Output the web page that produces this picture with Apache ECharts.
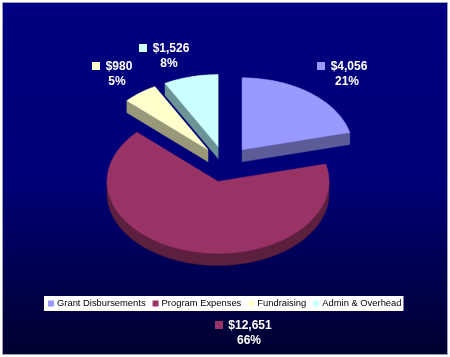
<!DOCTYPE html>
<html>
<head>
<meta charset="utf-8">
<style>
html, body { margin: 0; padding: 0; background: #fff; }
#chart { width: 450px; height: 357px; }
</style>
<script src="https://cdn.jsdelivr.net/npm/echarts@6/dist/echarts.min.js"></script>
</head>
<body>
<div id="chart"></div>
<script>
var categories = ['Grant Disbursements', 'Program Expenses', 'Fundraising', 'Admin & Overhead'];
var amounts = [4056, 12651, 980, 1526];

var colors = ['#9999ff', '#993366', '#ffffcc', '#ccffff'];
var sideColors = ['#5c5c99', '#5c1f3d', '#99997a', '#6d9494'];

// pie geometry, the tilted ellipse is what the stock pie series can't do
var cx = 225, cy = 164, rx = 111, ry = 72, depth = 12, explode = 0.25;
var labelFont = 'Liberation Sans, Arial, sans-serif';
// marker x, marker y, amount centre x, percent centre x
var labelPos = [
    [317, 62, 349, 347],
    [215, 321, 250, 249],
    [92, 62, 119, 117],
    [139, 44, 171, 169]
];

var total = amounts.reduce(function (a, b) { return a + b; }, 0);

function rimPoint(c, deg, dy) {
    var r = deg * Math.PI / 180;
    return [c[0] + rx * Math.sin(r), c[1] - ry * Math.cos(r) + (dy || 0)];
}

function arcPoints(c, from, to, dy) {
    var pts = [];
    for (var a = from; a < to; a += 1) {
        pts.push(rimPoint(c, a, dy));
    }
    pts.push(rimPoint(c, to, dy));
    return pts;
}

function poly(points, fill) {
    return {
        type: 'polygon',
        shape: { points: points },
        style: { fill: fill, stroke: fill, lineWidth: 0.5 }
    };
}

function cutFace(c, deg, fill) {
    var p = rimPoint(c, deg);
    return poly([c, p, [p[0], p[1] + depth], [c[0], c[1] + depth]], fill);
}

function makeRenderItem(idx) {
    var before = amounts.slice(0, idx).reduce(function (a, b) { return a + b; }, 0);
    return function (params, api) {
        var start = before / total * 360;
        var end = start + api.value(0) / total * 360;
        var mid = (start + end) / 2 * Math.PI / 180;
        var c = [cx + explode * rx * Math.sin(mid), cy - explode * ry * Math.cos(mid)];
        var side = sideColors[idx];
        var children = [];

        // wall facing the viewer
        var from = Math.max(start, 90), to = Math.min(end, 270);
        if (from < to) {
            children.push(poly(arcPoints(c, from, to).concat(arcPoints(c, from, to, depth).reverse()), side));
        }
        // cut faces that can be seen from the front
        if (end < 180) children.push(cutFace(c, end, side));
        if (start > 180) children.push(cutFace(c, start, side));
        // top face
        children.push(poly([c].concat(arcPoints(c, start, end)), colors[idx]));

        var pos = labelPos[idx];
        children.push({
            type: 'rect',
            shape: { x: pos[0], y: pos[1], width: 8, height: 8 },
            style: { fill: colors[idx] }
        });
        children.push({
            type: 'text',
            style: {
                x: pos[2], y: pos[1] + 5,
                text: '$' + api.value(0).toLocaleString('en-US'),
                fill: '#fff', font: 'bold 12px ' + labelFont,
                align: 'center', verticalAlign: 'middle'
            }
        });
        children.push({
            type: 'text',
            style: {
                x: pos[3], y: pos[1] + 20,
                text: Math.round(api.value(0) / total * 100) + '%',
                fill: '#fff', font: 'bold 12px ' + labelFont,
                align: 'center', verticalAlign: 'middle'
            }
        });
        return { type: 'group', children: children };
    };
}

var series = categories.map(function (name, i) {
    return {
        type: 'custom',
        name: name,
        coordinateSystem: 'none',
        silent: true,
        clip: false,
        data: [[amounts[i]]],
        renderItem: makeRenderItem(i)
    };
});

var option = {
    animation: false,
    color: colors,
    backgroundColor: '#fff',
    graphic: [{
        type: 'rect',
        z: -1,
        silent: true,
        shape: { x: 2.5, y: 2.5, width: 445, height: 352 },
        style: {
            stroke: '#9da1bd',
            lineWidth: 1,
            fill: new echarts.graphic.LinearGradient(0, 0, 0, 1, [
                { offset: 0, color: '#000080' },
                { offset: 0.5, color: '#000078' },
                { offset: 1, color: '#00002e' }
            ])
        }
    }],
    legend: {
        data: categories,
        left: 44,
        top: 296,
        orient: 'horizontal',
        backgroundColor: '#fff',
        padding: [3, 2, 3, 4],
        itemWidth: 6,
        itemHeight: 6,
        itemGap: 7,
        icon: 'rect',
        selectedMode: false,
        textStyle: { color: '#000', fontSize: 9.4, fontFamily: labelFont, padding: [0, 0, 0, -2] }
    },
    series: series
};

var chart = echarts.init(document.getElementById('chart'));
chart.setOption(option);
</script>
</body>
</html>
